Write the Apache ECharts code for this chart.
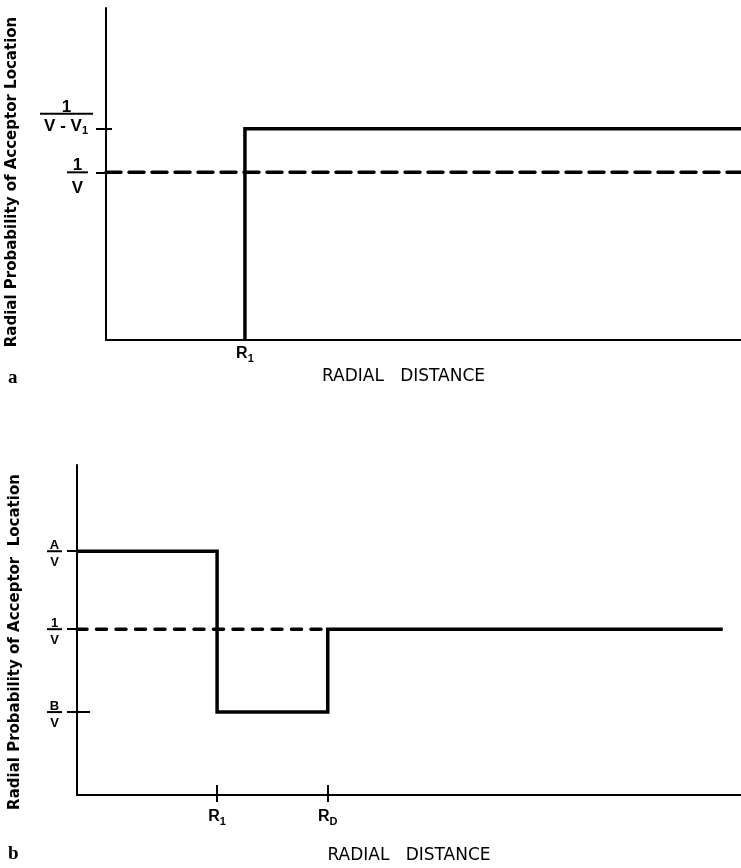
<!DOCTYPE html>
<html>
<head>
<meta charset="utf-8">
<script src="https://cdn.jsdelivr.net/npm/echarts@6/dist/echarts.min.js"></script>
<style>
  html, body { margin: 0; background: #fff; }
  #chart { width: 741px; height: 868px; }
</style>
</head>
<body>
<div id="chart"></div>
<script>
// panel a: uniform vs. excluded-volume distribution
const xMaxA = 4.57;
const yMaxA = 1.98;
const yTicksA = [1, 1.26];
const yTickNamesA = ['1/V', '1/(V - V1)'];
const xTicksA = [1];
const xTickNamesA = ['R1'];
const stepA = [[1, 0], [1, 1.26], [4.57, 1.26]];
const uniformA = [[0, 1], [4.57, 1]];

// panel b: enhanced / depleted shells
const xMaxB = 4.74;
const yMaxB = 1.99;
const yTicksB = [0.5, 1, 1.47];
const yTickNamesB = ['B/V', '1/V', 'A/V'];
const xTicksB = [1, 1.79];
const xTickNamesB = ['R1', 'RD'];
const stepB = [[0, 1.47], [1, 1.47], [1, 0.5], [1.79, 0.5], [1.79, 1], [4.61, 1]];
const uniformB = [[0, 1], [1.79, 1]];

const yName = 'Radial Probability of Acceptor Location';
const yNameB = 'Radial Probability of Acceptor  Location';
const xName = 'RADIAL   DISTANCE';

const axisLine = {
  lineStyle: { color: '#000', width: 2 },
};
const splitLine = { show: false };
const hiddenLine = { show: false };
const tickLine = { color: '#000', width: 2 };

/**
 * fractions as rich text
 */
const fracA = {
  '1/V': '{sp2|}\n{n2|1}{g|}\n{bar2|}{g|}\n{d2|V}{g|}',
  '1/(V - V1)': '{n1|1}\n{bar1|}\n{d|V - V}{sub|1}\n{sp|}',
};
const fracB = {
  'A/V': '{spb|}\n{nb|A}\n{barb|}\n{db|V}',
  '1/V': '{spb|}\n{nb|1}\n{barb|}\n{db|V}',
  'B/V': '{spb|}\n{nb|B}\n{barb|}\n{db|V}',
};
const subText = {
  R1: '{r|R}{s|1}',
  RD: '{r|R}{s|D}',
};

const bold = { fontFamily: 'Liberation Sans', fontWeight: 'bold', color: '#000' };
const richA = {
  n1: { ...bold, fontSize: 17, width: 53, align: 'center', lineHeight: 10 },
  bar1: { width: 53, height: 2, lineHeight: 2, backgroundColor: '#000' },
  d: { ...bold, fontSize: 17, lineHeight: 24 },
  sub: { ...bold, fontSize: 11, lineHeight: 24, padding: [8, 5, 0, 0] },
  sp: { height: 16, lineHeight: 16 },
  sp2: { height: 18, lineHeight: 18 },
  n2: { ...bold, fontSize: 17, width: 21, align: 'center', lineHeight: 12 },
  bar2: { width: 21, height: 2, lineHeight: 2, backgroundColor: '#000' },
  d2: { ...bold, fontSize: 17, width: 21, align: 'center', lineHeight: 30 },
  g: { width: 5, height: 1, lineHeight: 1 },
};
const richB = {
  spb: { height: 10, lineHeight: 10 },
  nb: { ...bold, fontSize: 13, width: 15, align: 'center', lineHeight: 10 },
  barb: { width: 15, height: 2, lineHeight: 2, backgroundColor: '#000' },
  db: { ...bold, fontSize: 13, width: 15, align: 'center', lineHeight: 20 },
};
const richX = {
  r: { ...bold, fontSize: 16 },
  s: { ...bold, fontSize: 11, padding: [9, 0, 0, 0] },
};

const yNameStyle = {
  fontFamily: 'DejaVu Sans', fontWeight: 'bold', fontSize: 15, color: '#000',
};
const xNameStyle = {
  fontFamily: 'DejaVu Sans', fontSize: 17, color: '#000',
};
const letterStyle = {
  fontFamily: 'Liberation Serif', fontWeight: 'bold', fontSize: 19, color: '#000',
};

const option = {
  animation: false,
  backgroundColor: '#fff',
  title: [
    { text: 'a', left: 3, top: 364, textStyle: letterStyle },
    { text: 'b', left: 3, top: 840, textStyle: letterStyle },
  ],
  grid: [
    { left: 106, top: 8, width: 635, height: 332, outerBoundsMode: 'none' },
    { left: 77, top: 465, width: 664, height: 330, outerBoundsMode: 'none' },
  ],
  xAxis: [{
    gridIndex: 0,
    type: 'value',
    position: 'bottom',
    min: 0,
    max: xMaxA,
    axisLine,
    splitLine,
    axisTick: { show: false },
    axisLabel: {
      customValues: xTicksA,
      margin: 4,
      formatter: v => subText[xTickNamesA[xTicksA.indexOf(v)]],
      rich: richX,
    },
    name: xName,
    nameLocation: 'middle',
    nameGap: 28,
    nameTextStyle: { ...xNameStyle, padding: [0, 40, 0, 0] },
  }, {
    gridIndex: 1,
    type: 'value',
    position: 'bottom',
    min: 0,
    max: xMaxB,
    axisLine,
    splitLine,
    axisTick: { customValues: xTicksB, length: 7, lineStyle: tickLine },
    axisLabel: {
      customValues: xTicksB,
      margin: 12,
      formatter: v => subText[xTickNamesB[xTicksB.indexOf(v)]],
      rich: richX,
    },
    name: xName,
    nameLocation: 'middle',
    nameGap: 52,
    nameTextStyle: xNameStyle,
  }, {
    // upper half of the crossing ticks
    gridIndex: 1,
    type: 'value',
    position: 'bottom',
    min: 0,
    max: xMaxB,
    axisLine: hiddenLine,
    splitLine,
    axisTick: { inside: true, customValues: xTicksB, length: 10, lineStyle: tickLine },
    axisLabel: { show: false },
  }],
  yAxis: [{
    gridIndex: 0,
    type: 'value',
    position: 'left',
    min: 0,
    max: yMaxA,
    axisLine,
    splitLine,
    axisTick: { customValues: yTicksA, length: 10, lineStyle: tickLine },
    axisLabel: {
      customValues: yTicksA.slice(0, 1),
      margin: 13,
      formatter: v => fracA[yTickNamesA[yTicksA.indexOf(v)]],
      rich: richA,
    },
    name: yName,
    nameLocation: 'middle',
    nameGap: 86,
    nameTextStyle: { ...yNameStyle, padding: [0, 16, 0, 0] },
  }, {
    // the raised level carries its own label and a tick crossing the axis
    gridIndex: 0,
    type: 'value',
    position: 'left',
    min: 0,
    max: yMaxA,
    axisLine: hiddenLine,
    splitLine,
    axisTick: { inside: true, customValues: yTicksA.slice(1), length: 6, lineStyle: tickLine },
    axisLabel: {
      customValues: yTicksA.slice(1),
      margin: 13,
      formatter: v => fracA[yTickNamesA[yTicksA.indexOf(v)]],
      rich: richA,
    },
  }, {
    gridIndex: 1,
    type: 'value',
    position: 'left',
    min: 0,
    max: yMaxB,
    axisLine,
    splitLine,
    axisTick: { customValues: yTicksB, length: 10, lineStyle: tickLine },
    axisLabel: {
      customValues: yTicksB,
      margin: 15,
      formatter: v => fracB[yTickNamesB[yTicksB.indexOf(v)]],
      rich: richB,
    },
    name: yNameB,
    nameLocation: 'middle',
    nameGap: 54,
    nameTextStyle: { ...yNameStyle, padding: [0, 24, 0, 0] },
  }, {
    gridIndex: 1,
    type: 'value',
    position: 'left',
    min: 0,
    max: yMaxB,
    axisLine: hiddenLine,
    splitLine,
    axisTick: { inside: true, customValues: yTicksB.slice(0, 1), length: 13, lineStyle: tickLine },
    axisLabel: { show: false },
  }],
  series: [{
    type: 'line',
    xAxisIndex: 0,
    yAxisIndex: 0,
    symbol: 'none',
    silent: true,
    lineStyle: { color: '#000', width: 3.5, join: 'miter' },
    data: stepA,
  }, {
    type: 'line',
    xAxisIndex: 0,
    yAxisIndex: 0,
    symbol: 'none',
    silent: true,
    lineStyle: { color: '#000', width: 3.5, type: [15, 8], cap: 'round' },
    data: uniformA,
  }, {
    type: 'line',
    xAxisIndex: 1,
    yAxisIndex: 2,
    symbol: 'none',
    silent: true,
    lineStyle: { color: '#000', width: 3.5, join: 'miter' },
    data: stepB,
  }, {
    type: 'line',
    xAxisIndex: 1,
    yAxisIndex: 2,
    symbol: 'none',
    silent: true,
    lineStyle: { color: '#000', width: 3.5, type: [10, 9.5], cap: 'round' },
    data: uniformB,
  }],
};

const myChart = echarts.init(document.getElementById('chart'));
myChart.setOption(option);
</script>
</body>
</html>
